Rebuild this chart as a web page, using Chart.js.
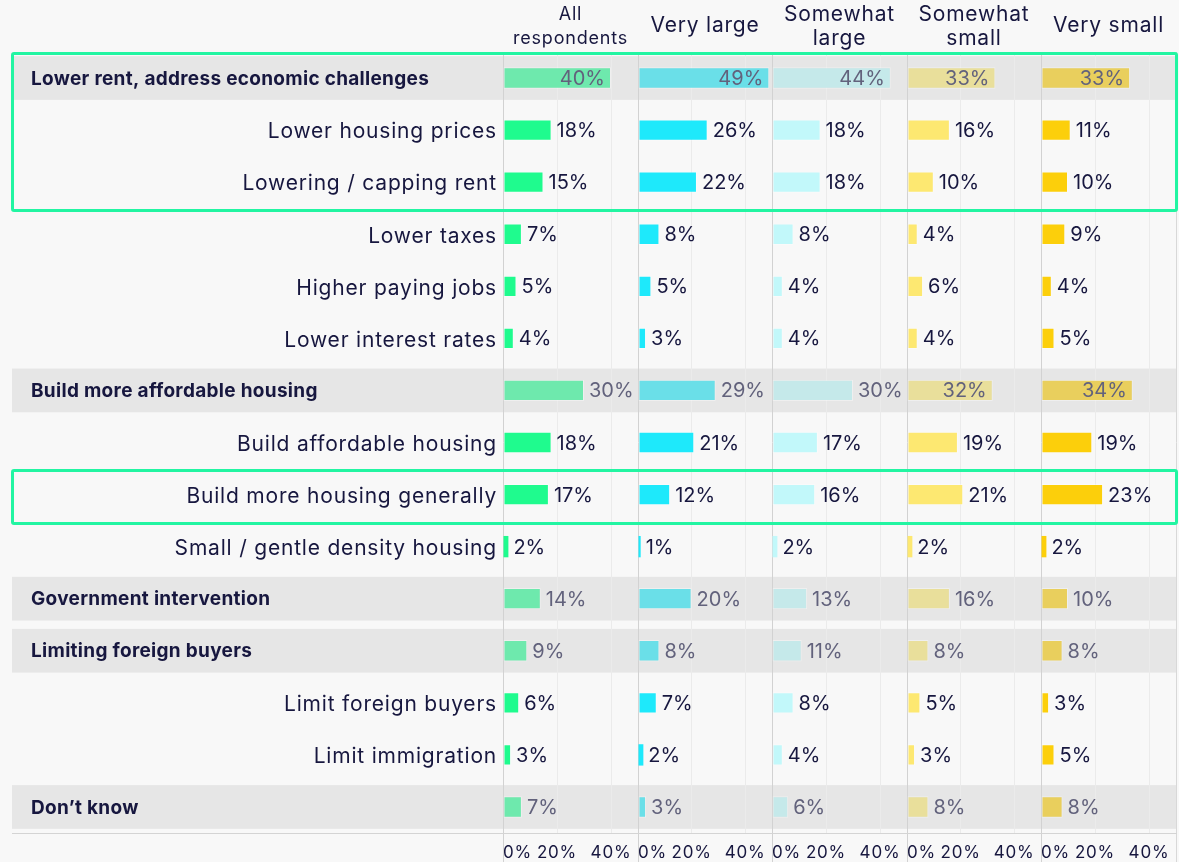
<!DOCTYPE html>
<html>
<head>
<meta charset="utf-8">
<script src="https://cdn.jsdelivr.net/npm/chart.js@4.4.1/dist/chart.umd.min.js"></script>
<style>
  html, body { margin: 0; padding: 0; background: #f8f8f8; }
  #wrap { position: relative; width: 1179px; height: 862px; overflow: hidden; }
  #wrap canvas { position: absolute; top: 0; }
  .hl { position: absolute; border: 3px solid #22f5a2; border-radius: 3px; box-sizing: border-box; pointer-events: none; }
</style>
</head>
<body>
<div id="wrap"></div>
<script>
// rows, top to bottom
var categories = [
  'Lower rent, address economic challenges',
  'Lower housing prices',
  'Lowering / capping rent',
  'Lower taxes',
  'Higher paying jobs',
  'Lower interest rates',
  'Build more affordable housing',
  'Build affordable housing',
  'Build more housing generally',
  'Small / gentle density housing',
  'Government intervention',
  'Limiting foreign buyers',
  'Limit foreign buyers',
  'Limit immigration',
  'Don\u2019t know'
];
var headerRows = [true, false, false, false, false, false, true, false, false, false, true, true, false, false, true];

var panelTitles = [['All', 'respondents'], ['Very large'], ['Somewhat', 'large'], ['Somewhat', 'small'], ['Very small']];

var allRespondents = [40, 18, 15, 7, 5, 4, 30, 18, 17, 2, 14, 9, 6, 3, 7];
var veryLarge      = [49, 26, 22, 8, 5, 3, 29, 21, 12, 1, 20, 8, 7, 2, 3];
var somewhatLarge  = [44, 18, 18, 8, 4, 4, 30, 17, 16, 2, 13, 11, 8, 4, 6];
var somewhatSmall  = [33, 16, 10, 4, 6, 4, 32, 19, 21, 2, 16, 8, 5, 3, 8];
var verySmall      = [33, 11, 10, 9, 4, 5, 34, 19, 23, 2, 10, 8, 3, 5, 8];

var tickValues = [0, 20, 40];
var axisMax = 50;

// [first row, last row] of the green outlined groups
var highlightGroups = [[0, 2], [8, 8]];

var panelValues = [allRespondents, veryLarge, somewhatLarge, somewhatSmall, verySmall];
var panelColors = ['#1ffb8e', '#1ee9fb', '#c2f8fa', '#fde871', '#fccf0b'];
var headerColors = ['#6ee9ad', '#6adfe8', '#c5e9ea', '#e9df9b', '#e9cf5d'];

var NAVY = '#17173f';
var FONT = 'Inter, "Open Sans", sans-serif';
var panelLeft = 503, panelWidth = 134.6, plotTop = 52, canvasH = 862;

var wrap = document.getElementById('wrap');
var charts = [];

function rowHeight(y) {
  return y.getPixelForValue(1) - y.getPixelForValue(0);
}

function decorPlugin(idx) {
  return {
    id: 'decor' + idx,
    beforeDraw: function(chart) {
      var ctx = chart.ctx, ca = chart.chartArea, y = chart.scales.y;
      var rh = rowHeight(y);
      var x0 = idx === 0 ? 12 : 0;
      ctx.save();
      ctx.fillStyle = '#e6e6e6';
      headerRows.forEach(function(h, i) {
        if (!h) return;
        var cy = y.getPixelForValue(i);
        ctx.fillRect(x0, cy - rh * 0.42, ca.right - x0, rh * 0.84);
      });
      ctx.restore();
      // the axis labels are drawn a little wider, like the original face
      ctx.letterSpacing = '0.8px';
    },
    afterDatasetsDraw: function(chart) {
      var ctx = chart.ctx, ca = chart.chartArea;
      var meta = chart.getDatasetMeta(0);
      var vals = chart.data.datasets[0].data;
      ctx.save();
      ctx.letterSpacing = '0px';
      ctx.font = '20px ' + FONT;
      ctx.textBaseline = 'middle';
      meta.data.forEach(function(bar, i) {
        var txt = vals[i] + '%';
        var w = ctx.measureText(txt).width;
        if (headerRows[i]) {
          ctx.fillStyle = '#62627c';
          if (bar.x + 5 + w > ca.right - 2) {
            ctx.textAlign = 'right';
            ctx.fillText(txt, bar.x - 6, bar.y + 1);
          } else {
            ctx.textAlign = 'left';
            ctx.fillText(txt, bar.x + 5, bar.y + 1);
          }
        } else {
          ctx.fillStyle = NAVY;
          ctx.textAlign = 'left';
          ctx.fillText(txt, bar.x + 5, bar.y + 1);
        }
      });
      ctx.restore();
    },
    afterDraw: function(chart) {
      var ctx = chart.ctx, ca = chart.chartArea, y = chart.scales.y;
      ctx.save();
      // panel title
      var lines = panelTitles[idx];
      var cx = (ca.left + ca.right) / 2;
      ctx.fillStyle = NAVY;
      ctx.textAlign = 'center';
      ctx.textBaseline = 'middle';
      ctx.letterSpacing = '0.8px';
      ctx.font = (idx === 0 ? '18px ' : '21px ') + FONT;
      var ys = lines.length === 2 ? [15, 39] : [26];
      lines.forEach(function(t, k) { ctx.fillText(t, cx, ys[k]); });
      if (idx === 0) {
        // bold group headings
        ctx.letterSpacing = '0.3px';
        ctx.font = 'bold 19px ' + FONT;
        ctx.textAlign = 'left';
        headerRows.forEach(function(h, i) {
          if (h) ctx.fillText(categories[i], 31, y.getPixelForValue(i) + 1);
        });
        // extend the base line under the labels
        ctx.strokeStyle = '#d4d4d4';
        ctx.lineWidth = 1;
        ctx.beginPath();
        ctx.moveTo(12, Math.round(ca.bottom) + 0.5);
        ctx.lineTo(ca.left, Math.round(ca.bottom) + 0.5);
        ctx.stroke();
      }
      ctx.restore();
    }
  };
}

panelValues.forEach(function(vals, idx) {
  var last = idx === panelValues.length - 1;
  var left = idx === 0 ? 0 : Math.round(panelLeft + idx * panelWidth);
  var right = Math.round(panelLeft + (idx + 1) * panelWidth);
  var extra = last ? 3 : 0;
  var canvas = document.createElement('canvas');
  canvas.width = right - left + extra;
  canvas.height = canvasH;
  canvas.style.left = left + 'px';
  canvas.style.width = (right - left + extra) + 'px';
  canvas.style.height = canvasH + 'px';
  wrap.appendChild(canvas);

  var chart = new Chart(canvas.getContext('2d'), {
    type: 'bar',
    data: {
      labels: categories,
      datasets: [{
        data: vals,
        backgroundColor: vals.map(function(v, i) { return headerRows[i] ? headerColors[idx] : panelColors[idx]; }),
        borderColor: 'rgba(255,255,255,0.35)',
        borderWidth: function(c) { return c.raw < 3 ? 0 : 1; },
        borderSkipped: false,
        barPercentage: 0.41,
        categoryPercentage: 1
      }]
    },
    options: {
      indexAxis: 'y',
      responsive: false,
      animation: false,
      devicePixelRatio: 1,
      layout: { padding: { top: plotTop, right: extra, left: 0, bottom: 0 } },
      plugins: { legend: { display: false }, tooltip: { enabled: false } },
      scales: {
        x: {
          type: 'linear',
          min: 0,
          max: axisMax,
          afterBuildTicks: function(scale) {
            scale.ticks = tickValues.concat([axisMax]).map(function(v) { return { value: v }; });
          },
          afterFit: function(scale) { scale.height = 29; },
          grid: {
            color: function(c) {
              var v = c.tick && c.tick.value;
              if (v === 0) return '#d2d2d2';
              if (v === axisMax) return last ? '#d8d8d8' : 'rgba(0,0,0,0)';
              return '#ebebeb';
            },
            tickColor: function(c) {
              var v = c.tick && c.tick.value;
              if (v === 0) return '#d2d2d2';
              if (v === axisMax && last) return '#d8d8d8';
              return 'rgba(0,0,0,0)';
            },
            tickLength: 30
          },
          border: { color: '#d4d4d4' },
          ticks: {
            align: 'inner',
            padding: -20,
            maxRotation: 0,
            minRotation: 0,
            autoSkip: false,
            color: NAVY,
            font: { family: FONT, size: 17 },
            callback: function(v) { return v === axisMax ? '' : v + '%'; }
          }
        },
        y: {
          display: idx === 0,
          grid: { display: false },
          border: { display: false },
          afterFit: function(scale) { if (idx === 0) scale.width = panelLeft; },
          ticks: {
            padding: -2,
            labelOffset: 2,
            color: NAVY,
            font: { family: FONT, size: 21 },
            callback: function(v, i) { return headerRows[i] ? '' : categories[i]; }
          }
        }
      }
    },
    plugins: [decorPlugin(idx)]
  });
  charts.push({ chart: chart, left: left });
});

// green outlines around highlighted groups, placed from the category scale
(function() {
  var first = charts[0].chart, lastC = charts[charts.length - 1];
  var y = first.scales.y;
  var rh = rowHeight(y);
  var rightEdge = lastC.left + lastC.chart.chartArea.right;
  highlightGroups.forEach(function(g) {
    var top = y.getPixelForValue(g[0]) - rh / 2;
    var bottom = y.getPixelForValue(g[1]) + rh / 2 + 4;
    var d = document.createElement('div');
    d.className = 'hl';
    d.style.left = '11px';
    d.style.top = top + 'px';
    d.style.width = (rightEdge - 11 + 2) + 'px';
    d.style.height = (bottom - top) + 'px';
    wrap.appendChild(d);
  });
})();
</script>
</body>
</html>
